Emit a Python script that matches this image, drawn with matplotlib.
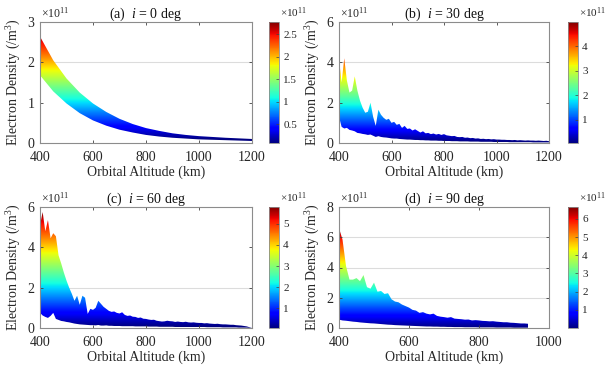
import numpy as np
import matplotlib
matplotlib.use("Agg")
import matplotlib.pyplot as plt
from matplotlib.colors import Normalize
from matplotlib.cm import ScalarMappable

plt.rcParams['font.family'] = ['Liberation Serif', 'DejaVu Serif']
plt.rcParams['mathtext.fontset'] = 'custom'
plt.rcParams['mathtext.rm'] = 'Liberation Serif'
plt.rcParams['mathtext.it'] = 'Liberation Serif:italic'

# ---------------- data (electron density in units of 1e11 /m^3) ----------------
alt_a = [400, 450, 500, 550, 600, 650, 700, 750, 800, 850, 900, 950, 1000, 1050, 1100, 1150, 1200]
upper_a = [2.64, 2.05, 1.6, 1.25, 0.98, 0.77, 0.6, 0.47, 0.37, 0.3, 0.24, 0.2, 0.17, 0.15, 0.13, 0.115, 0.1]
lower_a = [1.68, 1.28, 0.98, 0.74, 0.56, 0.43, 0.33, 0.26, 0.2, 0.16, 0.13, 0.11, 0.09, 0.08, 0.07, 0.06, 0.05]

alt_b = np.arange(400, 1201, 10)
upper_b = [4.15, 3.0, 4.2, 3.1, 2.5, 2.6, 3.3, 2.6, 2.1, 1.75,
           1.5, 1.55, 2.0, 1.3, 0.85, 1.65, 1.4, 1.25, 1.15, 1.2,
           1.0, 1.05, 0.9, 0.95, 0.75, 0.85, 0.7, 0.72, 0.62, 0.68,
           0.6, 0.52, 0.58, 0.48, 0.5, 0.44, 0.47, 0.42, 0.45, 0.4,
           0.44, 0.38, 0.36, 0.34, 0.35, 0.3, 0.29, 0.3, 0.26, 0.27,
           0.24, 0.25, 0.22, 0.23, 0.2, 0.21, 0.19, 0.2, 0.18, 0.19,
           0.17, 0.17, 0.16, 0.16, 0.15, 0.15, 0.14, 0.15, 0.13, 0.14,
           0.13, 0.12, 0.13, 0.12, 0.12, 0.11, 0.12, 0.11, 0.1, 0.11,
           0.09]
lower_b = [1.3, 0.8, 0.72, 0.75, 0.65, 0.62, 0.58, 0.5, 0.48, 0.45,
           0.43, 0.4, 0.42, 0.36, 0.3, 0.34, 0.3, 0.28, 0.27, 0.25,
           0.23, 0.22, 0.22, 0.2, 0.19, 0.18, 0.17, 0.17, 0.16, 0.15,
           0.15, 0.14, 0.14, 0.13, 0.13, 0.12, 0.12, 0.12, 0.11, 0.11,
           0.1, 0.1, 0.1, 0.09, 0.09, 0.09, 0.08, 0.08, 0.08, 0.08,
           0.07, 0.07, 0.07, 0.07, 0.06, 0.06, 0.06, 0.06, 0.06, 0.05,
           0.05, 0.05, 0.05, 0.05, 0.05, 0.04, 0.04, 0.04, 0.04, 0.04,
           0.04, 0.04, 0.04, 0.04, 0.03, 0.03, 0.03, 0.03, 0.03, 0.03,
           0.03]

alt_c = np.arange(400, 1201, 10)
upper_c = [5.1, 5.75, 4.8, 5.35, 4.45, 4.7, 4.55, 3.6, 3.2, 2.75,
           2.35, 2.0, 1.7, 1.35, 1.6, 1.15, 1.6, 1.5, 0.7, 0.95,
           0.9, 1.0, 1.35, 1.2, 1.05, 0.95, 0.85, 0.8, 0.82, 0.75,
           0.72, 0.78, 0.65, 0.6, 0.62, 0.56, 0.55, 0.5, 0.52, 0.46,
           0.45, 0.42, 0.4, 0.41, 0.36, 0.34, 0.32, 0.33, 0.36, 0.34,
           0.33, 0.3, 0.32, 0.3, 0.29, 0.31, 0.28, 0.27, 0.28, 0.26,
           0.25, 0.25, 0.23, 0.24, 0.22, 0.21, 0.2, 0.21, 0.19, 0.18,
           0.18, 0.17, 0.16, 0.16, 0.14, 0.13, 0.12, 0.1, 0.08, 0.04,
           0.0]
lower_c = [0.75, 0.62, 0.55, 0.5, 0.6, 0.75, 0.45, 0.4, 0.35, 0.33,
           0.3, 0.28, 0.25, 0.22, 0.2, 0.18, 0.17, 0.16, 0.15, 0.14,
           0.14, 0.13, 0.15, 0.12, 0.12, 0.13, 0.11, 0.11, 0.1, 0.1,
           0.1, 0.09, 0.09, 0.09, 0.09, 0.09, 0.08, 0.08, 0.08, 0.08,
           0.08, 0.07, 0.07, 0.07, 0.07, 0.06, 0.06, 0.06, 0.06, 0.06,
           0.06, 0.05, 0.05, 0.05, 0.05, 0.05, 0.05, 0.05, 0.05, 0.05,
           0.05, 0.05, 0.05, 0.04, 0.04, 0.04, 0.04, 0.04, 0.04, 0.03,
           0.03, 0.03, 0.03, 0.03, 0.03, 0.02, 0.02, 0.02, 0.02, 0.01,
           0.0]

alt_d = np.arange(400, 941, 10)
upper_d = [6.6, 5.85, 4.1, 3.2, 3.2, 3.3, 3.1, 3.5, 2.7, 2.6,
           3.0, 2.4, 2.45, 2.25, 2.3, 1.9, 1.75, 1.7, 1.55, 1.45,
           1.35, 1.2, 1.15, 1.0, 1.05, 0.95, 0.9, 0.95, 0.8, 0.75,
           0.72, 0.68, 0.72, 0.62, 0.6, 0.58, 0.55, 0.56, 0.5, 0.52,
           0.5, 0.47, 0.46, 0.44, 0.45, 0.42, 0.4, 0.38, 0.38, 0.35,
           0.34, 0.32, 0.3, 0.3, 0.28]
lower_d = [0.55, 0.5, 0.48, 0.45, 0.42, 0.4, 0.37, 0.35, 0.33, 0.31,
           0.3, 0.28, 0.26, 0.24, 0.22, 0.21, 0.19, 0.18, 0.17, 0.16,
           0.15, 0.14, 0.13, 0.12, 0.11, 0.1, 0.1, 0.09, 0.09, 0.08,
           0.08, 0.07, 0.07, 0.06, 0.06, 0.06, 0.05, 0.05, 0.05, 0.05,
           0.04, 0.04, 0.04, 0.04, 0.04, 0.03, 0.03, 0.03, 0.03, 0.03,
           0.02, 0.02, 0.02, 0.02, 0.02]

titles = ["(a)  $i$ = 0 deg", "(b)  $i$ = 30 deg", "(c)  $i$ = 60 deg", "(d)  $i$ = 90 deg"]
color_limits = [(0.08, 2.77), (0.05, 5.0), (0.06, 5.8), (0.0, 6.65)]
cbar_ticks = [[0.5, 1, 1.5, 2, 2.5], [1, 2, 3, 4], [1, 2, 3, 4, 5], [1, 2, 3, 4, 5, 6]]
cbar_ticklabels = [["0.5", "1", "1.5", "2", "2.5"], ["1", "2", "3", "4"],
                   ["1", "2", "3", "4", "5"], ["1", "2", "3", "4", "5", "6"]]
x_limits = [(400, 1200), (400, 1200), (400, 1200), (400, 1000)]
x_ticks = [[400, 600, 800, 1000, 1200]] * 3 + [[400, 600, 800, 1000]]
y_limits = [(0, 3), (0, 6), (0, 6), (0, 8)]
y_ticks = [[0, 1, 2, 3], [0, 2, 4, 6], [0, 2, 4, 6], [0, 2, 4, 6, 8]]
grid_levels = [[2], [4], [2], [2, 4, 6]]

panels = [(alt_a, upper_a, lower_a), (alt_b, upper_b, lower_b),
          (alt_c, upper_c, lower_c), (alt_d, upper_d, lower_d)]

# ---------------- layout (figure pixels) ----------------
W, H = 606, 369
fig = plt.figure(figsize=(W / 100, H / 100), dpi=100)

axes_px = [(40, 22, 212, 121), (339, 22, 210, 121), (40, 207, 212, 121), (339, 207, 210, 121)]
cbar_px = [(269, 22, 10, 121), (568, 22, 10, 121), (269, 207, 10, 121), (568, 207, 10, 121)]

def frac(r):
    x, y, w, h = r
    return [x / W, 1 - (y + h) / H, w / W, h / H]

frame_col = '#8c8c8c'
tick_col = '#404040'

for k in range(4):
    alt, up, lo = panels[k]
    ax = fig.add_axes(frac(axes_px[k]))
    x0, x1 = x_limits[k]
    y0, y1 = y_limits[k]
    vmin, vmax = color_limits[k]
    norm = Normalize(vmin=vmin, vmax=vmax)

    for g in grid_levels[k]:
        ax.axhline(g, color='#dcdcdc', lw=0.8, zorder=0)

    poly = ax.fill_between(alt, lo, up, facecolor='none', edgecolor='none')
    grad = np.linspace(y0, y1, 600).reshape(-1, 1)
    im = ax.imshow(grad, extent=[x0, x1, y0, y1], origin='lower', aspect='auto',
                   cmap='jet', norm=norm, interpolation='bilinear', zorder=1)
    im.set_clip_path(poly.get_paths()[0], transform=ax.transData)

    ax.set_xlim(x0, x1)
    ax.set_ylim(y0, y1)
    ax.set_xticks(x_ticks[k])
    ax.set_yticks(y_ticks[k])
    ax.tick_params(direction='in', length=2.5, width=0.6, colors=tick_col,
                   labelsize=10, labelcolor='#262626', top=True, right=True)
    ax.tick_params(axis='x', pad=6)
    ax.tick_params(axis='y', pad=4)
    for s in ax.spines.values():
        s.set_color(frame_col)
        s.set_linewidth(0.8)
    ax.set_xlabel("Orbital Altitude (km)", fontsize=10, color='#262626', labelpad=1)
    ax.set_ylabel("Electron Density (/m$^3$)", fontsize=10, color='#262626', labelpad=3)
    ax.set_title(titles[k], fontsize=10, pad=3, color='#111111')
    ax.text(0.005, 1.015, r"$\times$10$^{11}$", transform=ax.transAxes, fontsize=8.5,
            ha='left', va='bottom', color='#262626')

    cax = fig.add_axes(frac(cbar_px[k]))
    cb = fig.colorbar(ScalarMappable(norm=norm, cmap='jet'), cax=cax)
    cb.set_ticks(cbar_ticks[k])
    cb.set_ticklabels(cbar_ticklabels[k])
    cb.outline.set_edgecolor(frame_col)
    cb.outline.set_linewidth(0.6)
    cax.tick_params(direction='in', length=2, width=0.5, colors=tick_col,
                    labelsize=8, labelcolor='#262626', pad=3)
    cax.text(1.1, 1.015, r"$\times$10$^{11}$", transform=cax.transAxes, fontsize=8,
             ha='left', va='bottom', color='#262626')

fig.savefig("out.png", dpi=100)
